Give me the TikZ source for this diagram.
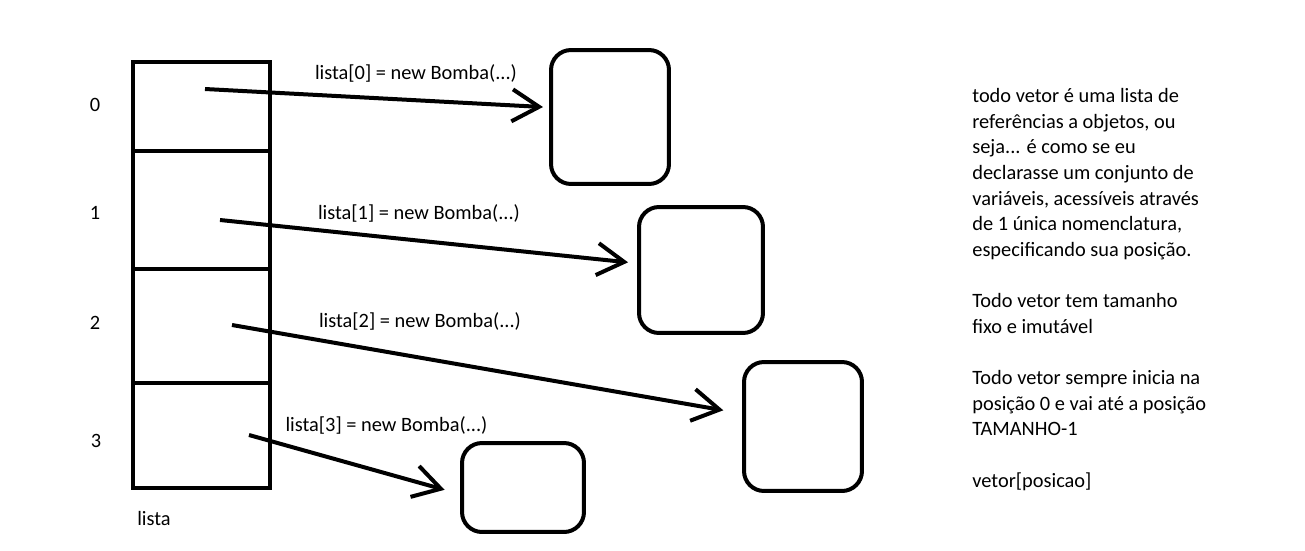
\documentclass[tikz,border=0pt]{standalone}
\usepackage{fontspec}
\setmainfont{Carlito}
\usetikzlibrary{arrows.meta,positioning}

\begin{document}
\begin{tikzpicture}[x=0.02cm,y=-0.02cm,
            cell/.style={draw,rectangle,line width=0.08cm,minimum width=2.74cm,outer sep=0,inner sep=0},
            obj/.style={draw,rectangle,rounded corners=0.4cm,line width=0.08cm,inner sep=0},
            lab/.style={font=\fontsize{11.6}{14.6}\selectfont,inner sep=0},
            ref/.style={draw,line width=0.08cm,-{Straight Barb[length=0.54cm,width=0.64cm]}}
          ]
          \useasboundingbox (0,0) rectangle (1305,551);

          %array
          \node[cell,minimum height=1.78cm,anchor=north] (c0) at (201.5,62) {};
          \node[cell,minimum height=2.36cm,below=0cm of c0] (c1) {};
          \node[cell,minimum height=2.28cm,below=0cm of c1] (c2) {};
          \node[cell,minimum height=2.10cm,below=0cm of c2] (c3) {};

          %indices
          \node[lab] (i0) at (95,105) {0};
          \node[lab] (i1) at (95,213) {1};
          \node[lab] (i2) at (95,323) {2};
          \node[lab] (i3) at (96,441) {3};
          \node[lab] (name) at (154,518) {lista};

          %objects
          \node[obj,minimum width=2.36cm,minimum height=2.68cm] (b0) at (610,117) {};
          \node[obj,minimum width=2.48cm,minimum height=2.52cm] (b1) at (701,270) {};
          \node[obj,minimum width=2.36cm,minimum height=2.58cm] (b2) at (803,426.5) {};
          \node[obj,minimum width=2.44cm,minimum height=1.78cm] (b3) at (523,487.5) {};

          %references
          \coordinate (p0) at (205,89);
          \coordinate (p1) at (220,220);
          \coordinate (p2) at (232,325);
          \coordinate (p3) at (249,435);
          \path[ref,shorten >=0.12cm] (p0) -- (b0.171);
          \path[ref,shorten >=0.18cm] (p1) -- (b1.174);
          \path[ref,shorten >=0.38cm] (p2) -- (b2.168);
          \path[ref,shorten >=0.32cm] (p3) -- (b3.186);

          %labels
          \node[lab] (l0) at (416,73) {lista[0] = new Bomba(...)};
          \node[lab] (l1) at (419,213) {lista[1] = new Bomba(...)};
          \node[lab] (l2) at (420,321) {lista[2] = new Bomba(...)};
          \node[lab] (l3) at (386.5,425) {lista[3] = new Bomba(...)};

          %notes
          \node[lab,align=left,anchor=north west] (notes) at (972,88) {todo vetor é uma lista de\\
            referências a objetos, ou\\
            seja... é como se eu\\
            declarasse um conjunto de\\
            variáveis, acessíveis através\\
            de 1 única nomenclatura,\\
            especificando sua posição.\\[14.6pt]
            Todo vetor tem tamanho\\
            fixo e imutável\\[14.6pt]
            Todo vetor sempre inicia na\\
            posição 0 e vai até a posição\\
            TAMANHO-1\\[14.6pt]
            vetor[posicao]};
      \end{tikzpicture}
\end{document}
